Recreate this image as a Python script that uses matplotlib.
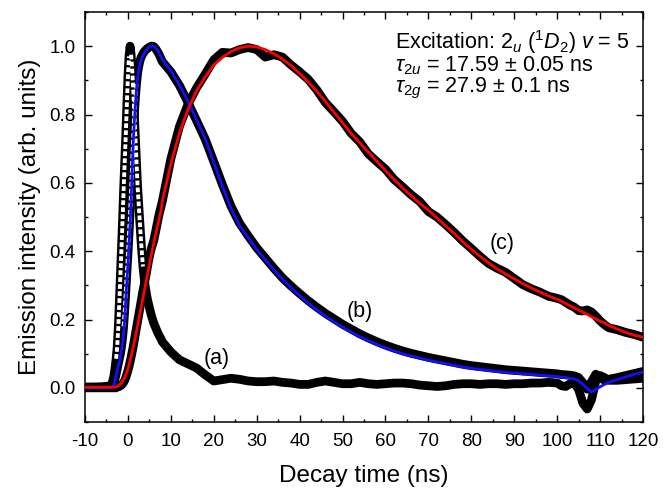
import numpy as np
import matplotlib
matplotlib.use("Agg")
import matplotlib.pyplot as plt
from matplotlib.ticker import MultipleLocator

plt.rcParams['font.family'] = ['Liberation Sans', 'DejaVu Sans']
plt.rcParams['mathtext.fontset'] = 'custom'
plt.rcParams['mathtext.rm'] = 'Liberation Sans'
plt.rcParams['mathtext.it'] = 'Liberation Sans:italic'
plt.rcParams['mathtext.bf'] = 'Liberation Sans:bold'
plt.rcParams['axes.unicode_minus'] = False

# ---- time grid (ns) ----
t_start = [-10, -8, -6]
t_fine = list(np.arange(-4.0, 8.0, 0.25))          # 48 points
t_mid = list(np.arange(8, 100, 2))                 # 46 points
t_dip = list(np.arange(100, 113, 1))               # 13 points
t_end = [114, 116, 118, 120]
time_ns = np.array(t_start + t_fine + t_mid + t_dip + t_end, dtype=float)

# ---- (a) data ----
a_start = [0.002, 0.002, 0.003]
a_fine = [0.006, 0.012, 0.022, 0.036, 0.058, 0.085, 0.12, 0.175, 0.25, 0.33, 0.41, 0.49,
          0.58, 0.66, 0.74, 0.83, 0.91, 0.97, 1.0, 0.975, 0.93, 0.87, 0.8, 0.73,
          0.66, 0.59, 0.54, 0.49, 0.44, 0.395, 0.355, 0.325, 0.3, 0.28, 0.262, 0.248,
          0.235, 0.222, 0.21, 0.2, 0.19, 0.182, 0.175, 0.167, 0.16, 0.154, 0.148, 0.142]
a_mid = [0.135, 0.105, 0.082, 0.07, 0.058, 0.038, 0.02, 0.024, 0.028, 0.025, 0.02, 0.018,
         0.018, 0.02, 0.016, 0.014, 0.01, 0.01, 0.016, 0.02, 0.016, 0.012, 0.012, 0.016,
         0.012, 0.01, 0.012, 0.014, 0.014, 0.012, 0.008, 0.006, 0.004, 0.006, 0.01, 0.012,
         0.012, 0.01, 0.012, 0.012, 0.01, 0.012, 0.012, 0.014, 0.014, 0.016]
a_dip = [0.014, 0.006, 0.004, 0.012, 0.014, -0.005, -0.045, -0.062, -0.035, 0.02, 0.036, 0.03, 0.022]
a_end = [0.022, 0.024, 0.026, 0.028]
data_a = np.array(a_start + a_fine + a_mid + a_dip + a_end)

# ---- (b) fit (blue) ----
bf_start = [0.0, 0.0, 0.0]
bf_fine = [0.001, 0.002, 0.004, 0.01, 0.02, 0.035, 0.05, 0.064, 0.076, 0.09, 0.11, 0.13,
           0.16, 0.2, 0.26, 0.31, 0.36, 0.42, 0.48, 0.55, 0.64, 0.72, 0.78, 0.83,
           0.875, 0.905, 0.928, 0.944, 0.956, 0.965, 0.972, 0.978, 0.984, 0.988, 0.992, 0.995,
           0.997, 0.999, 1.0, 1.0, 1.0, 0.998, 0.995, 0.991, 0.986, 0.981, 0.975, 0.968]
bf_mid = [0.962, 0.928, 0.886, 0.838, 0.785, 0.73, 0.66, 0.59, 0.525, 0.475, 0.44, 0.405,
          0.375, 0.345, 0.318, 0.293, 0.27, 0.248, 0.228, 0.21, 0.193, 0.178, 0.163, 0.15,
          0.138, 0.127, 0.117, 0.108, 0.1, 0.093, 0.087, 0.081, 0.076, 0.071, 0.066, 0.061,
          0.057, 0.054, 0.051, 0.048, 0.045, 0.043, 0.041, 0.039, 0.037, 0.035]
bf_dip = [0.033, 0.031, 0.03, 0.028, 0.026, 0.02, 0.01, -0.002, -0.012, -0.005, 0.003, 0.01, 0.016]
bf_end = [0.024, 0.032, 0.04, 0.046]
fit_b = np.array(bf_start + bf_fine + bf_mid + bf_dip + bf_end)

# ---- (b) data ----
b_start = [0.002, 0.002, 0.002]
b_fine = [0.003, 0.005, 0.009, 0.016, 0.026, 0.04, 0.055, 0.07, 0.085, 0.1, 0.12, 0.145,
          0.18, 0.225, 0.28, 0.335, 0.39, 0.45, 0.51, 0.58, 0.66, 0.735, 0.8, 0.85,
          0.89, 0.92, 0.94, 0.955, 0.965, 0.972, 0.978, 0.983, 0.987, 0.99, 0.993, 0.995,
          0.997, 0.999, 1.0, 1.0, 0.999, 0.996, 0.992, 0.987, 0.982, 0.976, 0.969, 0.962]
b_mid = [0.955, 0.925, 0.885, 0.835, 0.782, 0.728, 0.662, 0.595, 0.532, 0.482, 0.445, 0.41,
         0.38, 0.35, 0.322, 0.298, 0.276, 0.255, 0.236, 0.218, 0.202, 0.186, 0.172, 0.158,
         0.146, 0.135, 0.125, 0.116, 0.108, 0.101, 0.095, 0.089, 0.084, 0.079, 0.074, 0.069,
         0.065, 0.062, 0.059, 0.056, 0.053, 0.051, 0.049, 0.047, 0.045, 0.043]
b_dip = [0.041, 0.039, 0.038, 0.037, 0.035, 0.03, 0.015, -0.004, 0.018, 0.04, 0.03, 0.022, 0.025]
b_end = [0.03, 0.036, 0.042, 0.048]
data_b = np.array(b_start + b_fine + b_mid + b_dip + b_end)

# ---- (c) fit (red) ----
cf_start = [0.002, 0.002, 0.002]
cf_fine = [0.002, 0.002, 0.002, 0.002, 0.002, 0.003, 0.004, 0.006, 0.008, 0.011, 0.015, 0.02,
           0.025, 0.03, 0.038, 0.046, 0.056, 0.067, 0.079, 0.092, 0.106, 0.12, 0.135, 0.15,
           0.166, 0.182, 0.198, 0.214, 0.23, 0.247, 0.263, 0.28, 0.296, 0.312, 0.328, 0.344,
           0.36, 0.376, 0.392, 0.407, 0.422, 0.437, 0.452, 0.466, 0.48, 0.494, 0.507, 0.52]
cf_mid = [0.545, 0.655, 0.745, 0.815, 0.87, 0.91, 0.945, 0.967, 0.984, 0.995, 1.0, 0.998,
          0.99, 0.978, 0.962, 0.943, 0.92, 0.895, 0.868, 0.838, 0.807, 0.776, 0.745, 0.717,
          0.69, 0.663, 0.636, 0.61, 0.585, 0.562, 0.54, 0.52, 0.497, 0.474, 0.452, 0.428,
          0.405, 0.385, 0.366, 0.348, 0.333, 0.319, 0.305, 0.292, 0.28, 0.269]
cf_dip = [0.259, 0.253, 0.247, 0.24, 0.234, 0.228, 0.221, 0.215, 0.208, 0.202, 0.195, 0.19, 0.183]
cf_end = [0.172, 0.162, 0.154, 0.148]
fit_c = np.array(cf_start + cf_fine + cf_mid + cf_dip + cf_end)

# ---- (c) data ----
c_start = [0.0, 0.0, 0.0]
c_fine = [0.0, 0.0, 0.0, 0.0, 0.0, 0.0, 0.002, 0.003, 0.004, 0.006, 0.008, 0.012,
          0.016, 0.022, 0.03, 0.04, 0.05, 0.062, 0.076, 0.09, 0.106, 0.122, 0.14, 0.158,
          0.176, 0.194, 0.212, 0.23, 0.248, 0.266, 0.284, 0.3, 0.316, 0.332, 0.35, 0.368,
          0.384, 0.398, 0.41, 0.42, 0.43, 0.445, 0.46, 0.476, 0.492, 0.507, 0.52, 0.532]
c_mid = [0.545, 0.67, 0.765, 0.83, 0.878, 0.918, 0.96, 0.982, 0.98, 0.99, 0.996, 0.99,
         0.968, 0.975, 0.968, 0.945, 0.925, 0.903, 0.872, 0.835, 0.808, 0.78, 0.745, 0.72,
         0.685, 0.662, 0.64, 0.61, 0.588, 0.565, 0.545, 0.516, 0.5, 0.478, 0.455, 0.43,
         0.408, 0.385, 0.364, 0.35, 0.338, 0.32, 0.302, 0.29, 0.28, 0.268]
c_dip = [0.262, 0.258, 0.25, 0.242, 0.236, 0.226, 0.225, 0.228, 0.222, 0.21, 0.196, 0.185, 0.176]
c_end = [0.17, 0.162, 0.156, 0.148]
data_c = np.array(c_start + c_fine + c_mid + c_dip + c_end)

curve_labels = ["(a)", "(b)", "(c)"]
label_pos = [(20.7, 0.085), (54.1, 0.222), (87.1, 0.421)]

info_lines = [r"Excitation: 2$_u$ ($^1D_2$) $v$ = 5",
              r"$\tau_{2u}$ = 17.59 ± 0.05 ns",
              r"$\tau_{2g}$ = 27.9 ± 0.1 ns"]

# ---- figure ----
fig = plt.figure(figsize=(6.66, 4.92), dpi=100)
ax = fig.add_axes([85/666, 70/492, 558/666, 410/492])

band_lw = 6.3
for y in (data_a, data_b, data_c):
    ax.plot(time_ns, y, color='black', lw=band_lw, solid_capstyle='round',
            solid_joinstyle='round', zorder=2)

# open-circle look on the steep parts of the data
for y in (data_a, data_b):
    slope = np.abs(np.gradient(y, time_ns))
    y_steep = np.where(slope > 0.12, y, np.nan)
    ax.plot(time_ns, y_steep, color='white', lw=2.8, zorder=2.5, dashes=(1.2, 0.6))

ax.plot(time_ns, fit_b, color='#1010ff', lw=2.0, zorder=3)
ax.plot(time_ns, fit_c, color='#ff0000', lw=2.0, zorder=4)

for lab, (x, y) in zip(curve_labels, label_pos):
    ax.text(x, y, lab, fontsize=15.5, ha='center', va='center', zorder=5)

ybase = [49.3, 71.3, 92.7]
for line, yb in zip(info_lines, ybase):
    fig.text(395/666, 1 - yb/492, line, fontsize=15.5, ha='left', va='baseline')

ax.set_xlim(-10, 120)
ax.set_ylim(-0.1, 1.1)
ax.xaxis.set_major_locator(MultipleLocator(10))
ax.xaxis.set_minor_locator(MultipleLocator(5))
ax.yaxis.set_minor_locator(MultipleLocator(0.1))
ax.set_yticks(np.arange(0, 1.01, 0.2))
ax.set_yticklabels([f"{v:.1f}" for v in np.arange(0, 1.01, 0.2)])
ax.tick_params(which='both', direction='in', top=True, right=True, width=1.0, labelsize=13.5)
ax.tick_params(which='major', length=5)
ax.tick_params(which='minor', length=2.5)
ax.tick_params(axis='x', pad=8)
ax.tick_params(axis='y', pad=7)
for s in ax.spines.values():
    s.set_linewidth(1.1)

ax.set_xlabel("Decay time (ns)", fontsize=17.5, labelpad=11)
ax.set_ylabel("Emission intensity (arb. units)", fontsize=17.5, labelpad=6)

fig.savefig("out.png", dpi=100)
